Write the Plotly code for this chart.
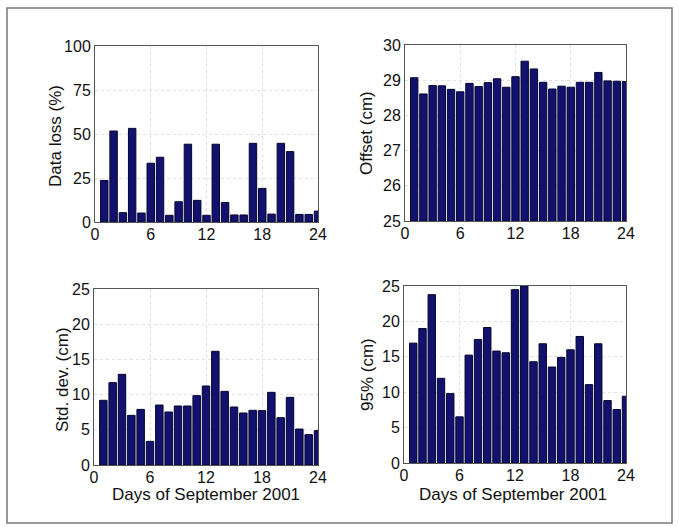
import plotly.graph_objects as go

days = list(range(1, 25))
data_loss = [23.6, 51.7, 5.3, 53.2, 5.1, 33.4, 36.8, 3.8, 11.5, 44.2, 12.3, 3.8,
             44.2, 11.1, 4.0, 4.0, 44.7, 19.1, 4.5, 44.7, 40.0, 4.3, 4.3, 6.2]
offset = [29.07, 28.61, 28.85, 28.84, 28.74, 28.67, 28.91, 28.82, 28.93, 29.04, 28.80, 29.10,
          29.54, 29.32, 28.94, 28.75, 28.83, 28.80, 28.94, 28.94, 29.22, 28.98, 28.97, 28.96]
std_dev = [9.19, 11.7, 12.88, 7.05, 7.9, 3.36, 8.52, 7.53, 8.38, 8.38, 9.85, 11.22,
           16.15, 10.46, 8.24, 7.39, 7.77, 7.72, 10.32, 6.72, 9.61, 5.11, 4.31, 4.88]
p95 = [16.93, 19.0, 23.78, 11.96, 9.8, 6.52, 15.24, 17.45, 19.14, 15.81, 15.57, 24.48,
       25.0, 14.3, 16.84, 13.56, 14.92, 15.99, 17.87, 11.07, 16.84, 8.82, 7.55, 9.43]

x_ticks = [0, 6, 12, 18, 24]
W, H = 679, 527

panels = [
    dict(y=data_loss, base=0, rng=[0, 100], ticks=[0, 25, 50, 75, 100], title="Data loss (%)",
         box=(95, 318, 46, 222), xt="", ytpos=(55, 136)),
    dict(y=offset, base=25, rng=[25, 30], ticks=[25, 26, 27, 28, 29, 30], title="Offset (cm)",
         box=(405, 626, 45, 221), xt="", ytpos=(366, 133)),
    dict(y=std_dev, base=0, rng=[0, 25], ticks=[0, 5, 10, 15, 20, 25], title="Std. dev. (cm)",
         box=(94, 318, 289, 465), xt="Days of September 2001", ytpos=(62, 380), xtpos=(206, 494)),
    dict(y=p95, base=0, rng=[0, 25], ticks=[0, 5, 10, 15, 20, 25], title="95% (cm)",
         box=(404, 626, 286, 463), xt="Days of September 2001", ytpos=(367, 375), xtpos=(513, 494)),
]

fig = go.Figure()
font = dict(family="Liberation Sans, Arial, sans-serif", size=16, color="#111111")
tfont = dict(family="Liberation Sans, Arial, sans-serif", size=17, color="#111111")
layout = {}
annotations = []
for i, p in enumerate(panels, start=1):
    sx = "" if i == 1 else str(i)
    x0, x1, y0, y1 = p["box"]
    vals = [v - p["base"] for v in p["y"]]
    fig.add_trace(go.Bar(x=days, y=vals, base=p["base"], width=0.8,
                         marker=dict(color="#12126e", line=dict(color="#050530", width=1)),
                         xaxis="x" + sx, yaxis="y" + sx, showlegend=False))
    common = dict(showline=True, linecolor="#555555", linewidth=1, mirror=True,
                  showgrid=True, gridcolor="#e0e0e0", griddash="dot", gridwidth=1,
                  zeroline=False, ticks="", tickfont=font, layer="above traces",
                  automargin=False)
    layout["xaxis" + sx] = dict(common, domain=[x0 / W, x1 / W], range=[0, 24],
                                tickvals=x_ticks, anchor="y" + sx, ticklabelstandoff=-2)
    layout["yaxis" + sx] = dict(common, domain=[1 - y1 / H, 1 - y0 / H], range=p["rng"],
                                tickvals=p["ticks"], anchor="x" + sx)
    tx, ty = p["ytpos"]
    annotations.append(dict(text=p["title"], textangle=-90, x=tx / W, y=1 - ty / H,
                            xref="paper", yref="paper", xanchor="center", yanchor="middle",
                            showarrow=False, font=tfont))
    if p["xt"]:
        tx, ty = p["xtpos"]
        annotations.append(dict(text=p["xt"], x=tx / W, y=1 - ty / H,
                                xref="paper", yref="paper", xanchor="center", yanchor="middle",
                                showarrow=False, font=tfont))

fig.update_layout(**layout)
fig.update_layout(width=W, height=H, margin=dict(l=0, r=0, t=0, b=0),
                  paper_bgcolor="white", plot_bgcolor="white", bargap=0.2,
                  annotations=annotations,
                  shapes=[dict(type="rect", xref="paper", yref="paper",
                               x0=7 / W, x1=672 / W, y0=1 - 523 / H, y1=1 - 8 / H,
                               line=dict(color="#777777", width=1.5))])
fig.write_html("out.html", config={"displayModeBar": False},
               post_script="document.body.style.margin='0';document.body.style.overflow='hidden';")
